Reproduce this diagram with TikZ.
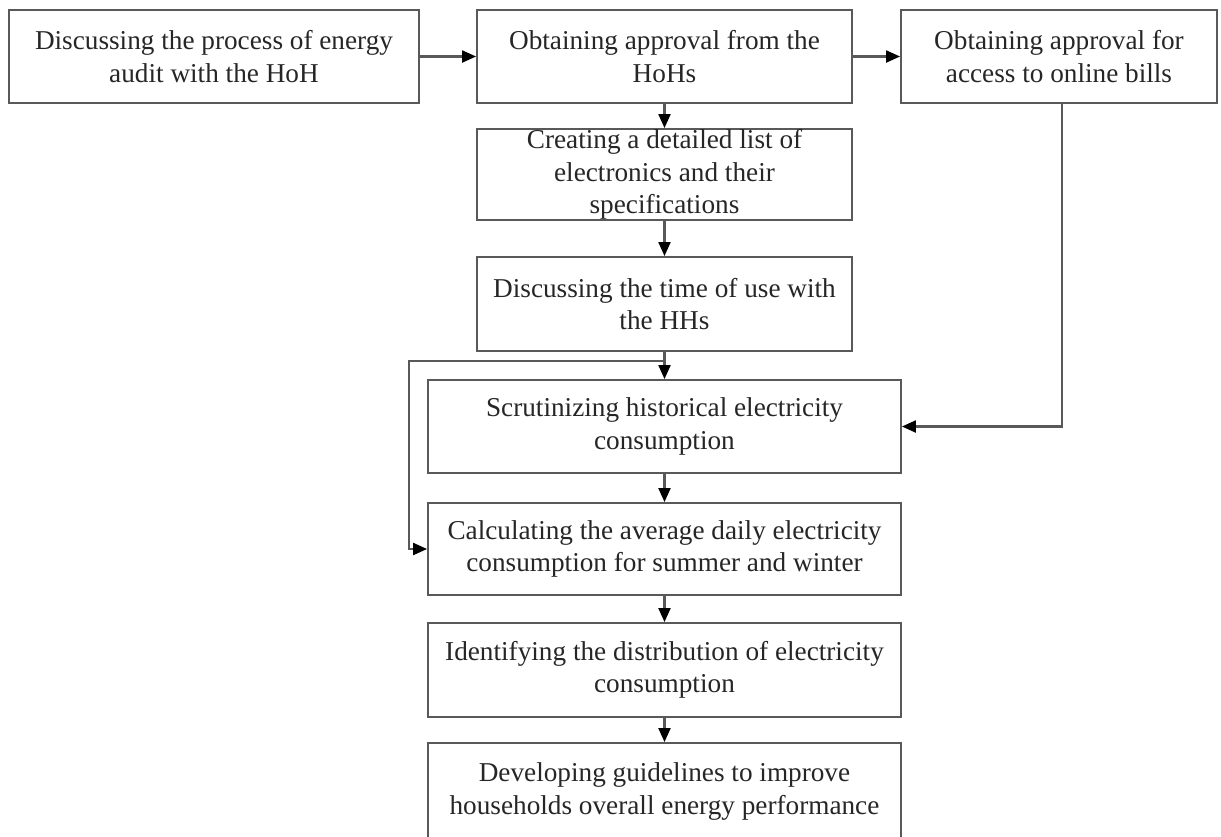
\documentclass[tikz,border=0pt]{standalone}
\usepackage{fontspec}
\setmainfont{Liberation Serif}
\usetikzlibrary{arrows.meta}
\tikzset{
	hop/.style={draw=black!65,line width=1.1pt,align=center,inner sep=0pt,text=black!85,
		font=\fontsize{15.5}{18.5}\selectfont},
	mui/.style={draw=black!65,line width=1.2pt,-{Triangle[length=0.28cm,width=0.24cm,color=black]}}
}
\begin{document}
\begin{tikzpicture}[x=0.02cm,y=-0.02cm]
			\clip (0,0) rectangle (1221,836);
			
			%Hàng trên
			\node[hop,minimum width=8.2cm,minimum height=1.86cm] (discuss) at (214,56.5)
				{Discussing the process of energy\\audit with the HoH};
			\node[hop,minimum width=7.5cm,minimum height=1.86cm] (approve) at (664.5,56.5)
				{Obtaining approval from the\\HoHs};
			\node[hop,minimum width=6.32cm,minimum height=1.86cm] (bills) at (1059,56.5)
				{Obtaining approval for\\access to online bills};
			
			%Cột giữa
			\node[hop,minimum width=7.5cm,minimum height=1.82cm] (list) at (664.5,174.5)
				{Creating a detailed list of\\electronics and their\\specifications};
			\node[hop,minimum width=7.5cm,minimum height=1.88cm] (timeuse) at (664.5,304)
				{Discussing the time of use with\\the HHs};
			
			%Cột dưới
			\node[hop,minimum width=9.46cm,minimum height=1.86cm] (history) at (664.5,426.5)
				{Scrutinizing historical electricity\\consumption};
			\node[hop,minimum width=9.46cm,minimum height=1.84cm] (average) at (664.5,549)
				{Calculating the average daily electricity\\consumption for summer and winter};
			\node[hop,minimum width=9.46cm,minimum height=1.88cm] (distrib) at (664.5,670)
				{Identifying the distribution of electricity\\consumption};
			\node[hop,minimum width=9.46cm,minimum height=1.94cm] (guide) at (664.5,791.5)
				{Developing guidelines to improve\\households overall energy performance};
			
			%---------------mũi tên
			\draw[mui] (discuss) -- (approve);
			\draw[mui] (approve) -- (bills);
			\draw[mui] (approve) -- (list);
			\draw[mui] (list) -- (timeuse);
			\draw[mui] (timeuse) -- (history);
			\draw[mui] (history) -- (average);
			\draw[mui] (average) -- (distrib);
			\draw[mui] (distrib) -- (guide);
			\draw[mui] ([xshift=0.06cm]bills.south) |- (history.east);
			%----vòng trái
			\coordinate (tach) at (664.5,361);
			\coordinate (vong) at (409,361);
			\draw[mui] (tach) -- (vong) |- (average.west);
			
\end{tikzpicture}
\end{document}
